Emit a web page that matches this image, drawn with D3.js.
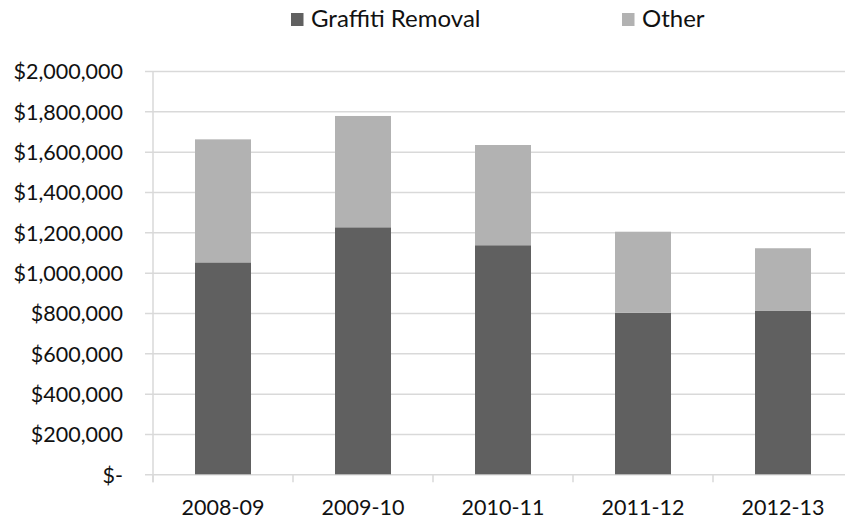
<!DOCTYPE html>
<html>
<head>
<meta charset="utf-8">
<script src="https://cdn.jsdelivr.net/npm/d3@7"></script>
<style>
  html, body { margin: 0; padding: 0; background: #fff; }
  svg { display: block; }
  text { font-family: Lato, "Open Sans", sans-serif; fill: #111; }
</style>
</head>
<body>
<svg id="chart" width="845" height="523"></svg>
<script>
const categories = ["2008-09", "2009-10", "2010-11", "2011-12", "2012-13"];
const graffitiRemoval = [1051000, 1225000, 1136000, 801000, 810000];
const other = [610000, 552000, 497000, 402000, 311000];
const yTicks = [0, 200000, 400000, 600000, 800000, 1000000, 1200000, 1400000, 1600000, 1800000, 2000000];
const seriesNames = ["Graffiti Removal", "Other"];
const seriesColors = ["#606060", "#b2b2b2"];

const svg = d3.select("#chart");
const fontSize = 21.5;
const legendFontSize = 24;

const x = d3.scaleBand().domain(categories).range([153, 853]).paddingInner(0.6).paddingOuter(0.3);
const y = d3.scaleLinear().domain([0, 2000000]).range([474.3, 71]);

const fmt = d => d === 0 ? "$-" : d3.format("$,")(d);

// gridlines + y labels
const yAxis = svg.append("g")
  .attr("transform", "translate(145,0)")
  .call(d3.axisLeft(y).tickValues(yTicks).tickSize(-(853 - 145)).tickPadding(22).tickFormat(fmt));
yAxis.select(".domain").remove();
yAxis.selectAll(".tick line").attr("stroke", "#d9d9d9").attr("stroke-width", 1.5);
yAxis.selectAll(".tick text")
  .attr("font-size", fontSize).attr("font-family", "Lato, sans-serif").attr("fill", "#111")
  .attr("dy", "0.36em");

// vertical axis line
svg.append("line")
  .attr("x1", x.range()[0]).attr("x2", x.range()[0])
  .attr("y1", y(2000000)).attr("y2", y(0) + 8)
  .attr("stroke", "#d9d9d9").attr("stroke-width", 1.5);

// category boundary ticks
const gap = (x.step() - x.bandwidth()) / 2;
const bounds = categories.map(c => x(c) - gap).concat([x(categories[categories.length - 1]) + x.bandwidth() + gap]);
svg.append("g").selectAll("line").data(bounds).join("line")
  .attr("x1", d => d).attr("x2", d => d)
  .attr("y1", y(0)).attr("y2", y(0) + 8)
  .attr("stroke", "#d9d9d9").attr("stroke-width", 1.5);

// stacked bars
const rows = categories.map((c, i) => ({ cat: c, "Graffiti Removal": graffitiRemoval[i], "Other": other[i] }));
const stack = d3.stack().keys(seriesNames)(rows);
svg.append("g").selectAll("g").data(stack).join("g")
  .attr("fill", (d, i) => seriesColors[i])
  .selectAll("rect").data(d => d).join("rect")
  .attr("x", d => x(d.data.cat))
  .attr("width", x.bandwidth())
  .attr("y", d => y(d[1]))
  .attr("height", d => y(d[0]) - y(d[1]));

// x labels
const xAxis = svg.append("g")
  .attr("transform", `translate(0,${y(0)})`)
  .call(d3.axisBottom(x).tickSize(0));
xAxis.select(".domain").remove();
xAxis.selectAll(".tick text")
  .attr("font-size", fontSize).attr("font-family", "Lato, sans-serif").attr("fill", "#111")
  .attr("y", 515 - 474.3).attr("dy", 0);

// legend
const legendX = [291, 622];
const legend = svg.append("g").selectAll("g").data(seriesNames).join("g")
  .attr("transform", (d, i) => `translate(${legendX[i]},0)`);
legend.append("rect").attr("x", 0).attr("y", 13).attr("width", 12.5).attr("height", 13)
  .attr("fill", (d, i) => seriesColors[i]);
legend.append("text").attr("x", 20).attr("y", 27)
  .attr("font-size", legendFontSize).text(d => d);
</script>
</body>
</html>
